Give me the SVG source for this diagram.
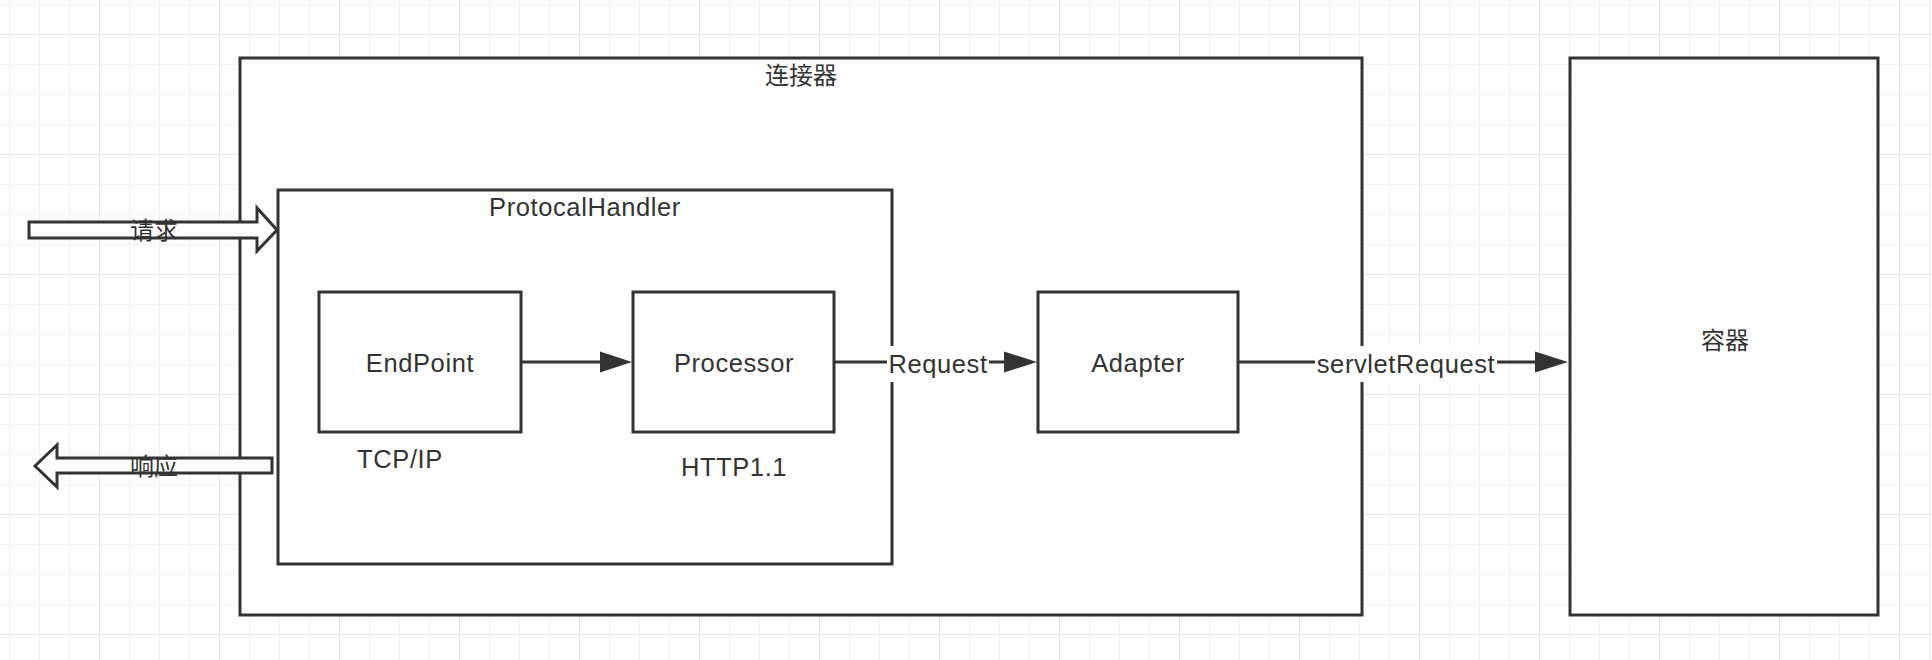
<svg xmlns="http://www.w3.org/2000/svg" width="1932" height="660" viewBox="0 0 1932 660">
<style>
.box{fill:#fff;stroke:#333;stroke-width:3}
.t{font-family:"Liberation Sans",Arial,sans-serif;font-size:25.5px;letter-spacing:0.6px;fill:#333;text-anchor:middle}
.cjk{font-family:"Liberation Sans","Noto Sans CJK SC",sans-serif;font-size:24px;fill:#333;text-anchor:middle}
.edge{stroke:#333;stroke-width:3;fill:none}
.lbg{fill:#fff}
.hollow{fill:#fff;stroke:#333;stroke-width:3;stroke-linejoin:miter}
</style>
<defs>
<pattern id="minor" x="9" y="4" width="30" height="30" patternUnits="userSpaceOnUse">
<path d="M0 0H30M0 0V30" stroke="#f1f1f1" stroke-width="2" fill="none"/>
</pattern>
<pattern id="major" x="99" y="34" width="120" height="120" patternUnits="userSpaceOnUse">
<path d="M0 0H120M0 0V120" stroke="#e6e6e6" stroke-width="2" fill="none"/>
</pattern>
</defs>
<rect width="1932" height="660" fill="#fff"/>
<rect width="1932" height="660" fill="url(#minor)"/>
<rect width="1932" height="660" fill="url(#major)"/>

<g id="connector">
<rect class="box" x="240" y="58" width="1122" height="557"/>
<text class="cjk" x="801" y="84">连接器</text>
</g>
<g id="container">
<rect class="box" x="1570" y="58" width="308" height="557"/>
<text class="cjk" x="1725" y="349">容器</text>
</g>
<g id="protocalhandler">
<rect class="box" x="278" y="190" width="614" height="374"/>
<text class="t" x="585" y="216">ProtocalHandler</text>
</g>
<g id="endpoint">
<rect class="box" x="319" y="292" width="202" height="140"/>
<text class="t" x="420" y="372">EndPoint</text>
</g>
<g id="processor">
<rect class="box" x="633" y="292" width="201" height="140"/>
<text class="t" x="734" y="372">Processor</text>
</g>
<g id="adapter">
<rect class="box" x="1038" y="292" width="200" height="140"/>
<text class="t" x="1138" y="372">Adapter</text>
</g>
<g id="tcpip-label"><text class="t" x="400" y="468">TCP/IP</text></g>
<g id="http-label"><text class="t" x="734" y="476">HTTP1.1</text></g>

<g id="connectors">
<path d="M521 362H602" class="edge"/>
<path d="M600 351.5L632 362L600 372.5z" fill="#333"/>
<path d="M834 362H1006" class="edge"/>
<path d="M1004 351.5L1037 362L1004 372.5z" fill="#333"/>
<path d="M1238 362H1536" class="edge"/>
<path d="M1535 351.5L1568 362L1535 372.5z" fill="#333"/>
<rect class="lbg" x="887" y="346" width="102" height="36"/>
<text class="t" x="938" y="373">Request</text>
<rect class="lbg" x="1315" y="346" width="182" height="36"/>
<text class="t" x="1406" y="373">servletRequest</text>
<g id="request-arrow">
<path class="hollow" d="M29 222H257V208L277 230L257 251V238H29Z"/>
<text class="cjk" x="154" y="239">请求</text>
</g>
<g id="response-arrow">
<path class="hollow" d="M272 458H57V445L35 466L57 487V473H272Z"/>
<text class="cjk" x="154" y="475">响应</text>
</g>
</g>
</svg>
